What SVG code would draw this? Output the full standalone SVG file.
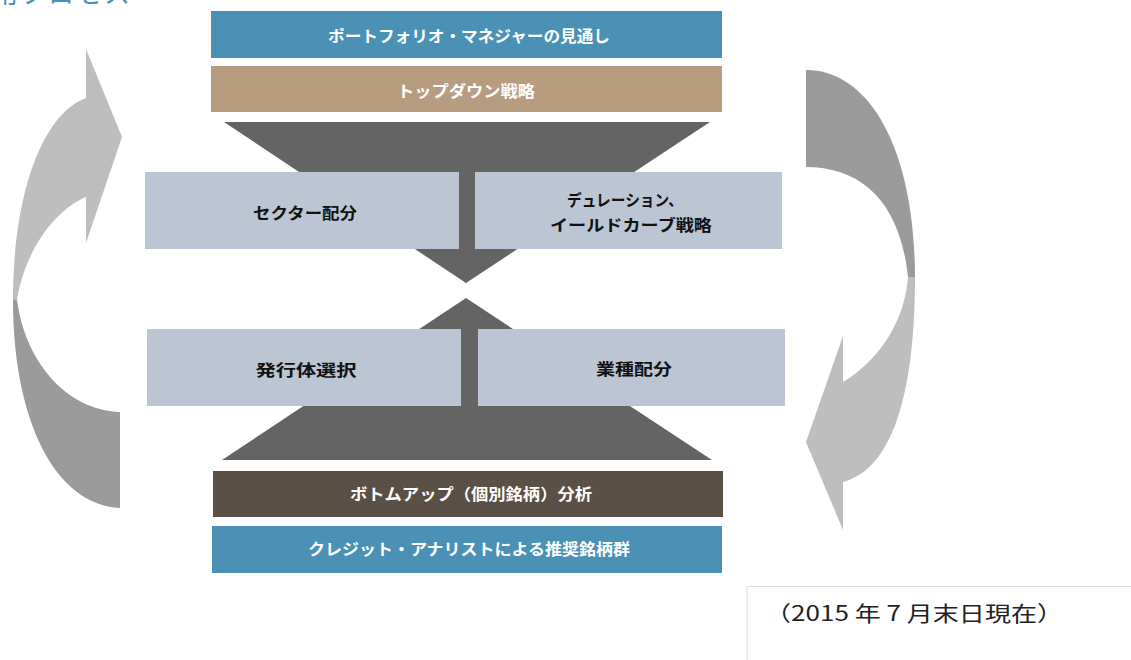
<svg xmlns="http://www.w3.org/2000/svg" width="1131" height="660" viewBox="0 0 1131 660">
<style>
.lbl{font-family:"Noto Sans CJK JP","Liberation Sans",sans-serif;font-weight:bold;font-size:16px;text-anchor:middle}
.w{fill:#ffffff}
.k{fill:#111111}
.gbox{fill:#bcc5d3}
.funnel{fill:#646464}
.light{fill:#bebebe}
.dark{fill:#9b9b9b}
</style>
<rect width="1131" height="660" fill="#ffffff"/>
<text x="-36" y="3" font-family="'Noto Sans CJK JP','Liberation Sans',sans-serif" font-size="26" fill="#4a90b8" letter-spacing="2">運用プロセス</text>
<g id="connectors">
  <polygon class="funnel" points="224,122 710,122 466,283"/>
  <polygon class="funnel" points="466,298 712,460 222,460"/>
  <path class="light" d="M86,98 C40,115 13,200 13,300 L17,300 C25,250 55,210 86,197 L86,243 L122,137 L86,49 Z"/>
  <path class="dark" d="M13,300 C13,420 55,505 120,508 L120,412 C65,410 25,360 17,300 Z"/>
  <path class="dark" d="M806,70 C870,70 915,150 915,277 L908,277 C900,200 860,167 806,167 Z"/>
  <path class="light" d="M915,277 C915,400 890,470 843,482 L843,530 L806,442 L843,336 L843,382 C880,360 905,320 908,277 Z"/>
</g>
<g id="pm-outlook">
  <rect x="211" y="11" width="511" height="47" fill="#4b91b6"/>
  <text class="lbl w" x="469" y="42" textLength="282" lengthAdjust="spacingAndGlyphs">ポートフォリオ・マネジャーの見通し</text>
</g>
<g id="top-down">
  <rect x="211" y="66" width="511" height="46" fill="#b89c80"/>
  <text class="lbl w" x="466" y="97" textLength="138" lengthAdjust="spacingAndGlyphs">トップダウン戦略</text>
</g>
<g id="sector">
  <rect class="gbox" x="145" y="172" width="314" height="77"/>
  <text class="lbl k" x="305" y="219" textLength="104" lengthAdjust="spacingAndGlyphs">セクター配分</text>
</g>
<g id="duration">
  <rect class="gbox" x="475" y="172" width="307" height="77"/>
  <text class="lbl k" x="625" y="206" textLength="116" lengthAdjust="spacingAndGlyphs">デュレーション、</text>
  <text class="lbl k" x="631" y="231" textLength="162" lengthAdjust="spacingAndGlyphs">イールドカーブ戦略</text>
</g>
<g id="issuer">
  <rect class="gbox" x="147" y="329" width="314" height="77"/>
  <text class="lbl k" x="306" y="376" textLength="101" lengthAdjust="spacingAndGlyphs">発行体選択</text>
</g>
<g id="industry">
  <rect class="gbox" x="478" y="329" width="307" height="77"/>
  <text class="lbl k" x="634" y="375" textLength="76" lengthAdjust="spacingAndGlyphs">業種配分</text>
</g>
<g id="bottom-up">
  <rect x="213" y="471" width="510" height="46" fill="#5a5045"/>
  <text class="lbl w" x="471" y="500" textLength="242" lengthAdjust="spacingAndGlyphs">ボトムアップ（個別銘柄）分析</text>
</g>
<g id="analyst">
  <rect x="212" y="526" width="510" height="47" fill="#4b91b6"/>
  <text class="lbl w" x="469" y="555" textLength="322" lengthAdjust="spacingAndGlyphs">クレジット・アナリストによる推奨銘柄群</text>
</g>
<g id="date-note">
  <path d="M747,660 L747,586.5 L1131,586.5" fill="none" stroke="#dddddd" stroke-width="1"/>
  <text x="765" y="621" font-family="'Noto Sans CJK JP','Liberation Sans',sans-serif" font-size="21" fill="#222222" textLength="298" lengthAdjust="spacingAndGlyphs">（2015 年 7 月末日現在）</text>
</g>
</svg>
